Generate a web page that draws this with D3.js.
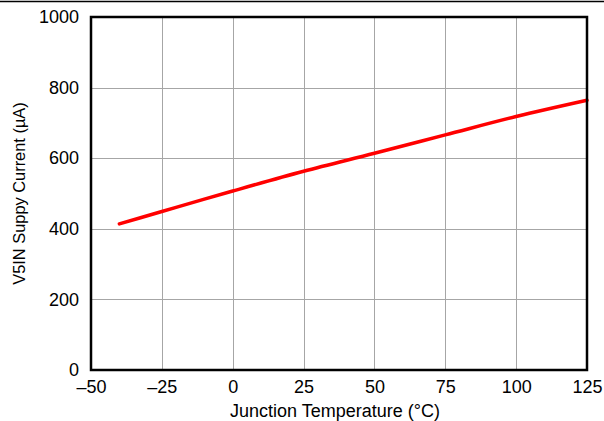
<!DOCTYPE html>
<html><head><meta charset="utf-8">
<script src="https://cdn.jsdelivr.net/npm/d3@7"></script>
<style>body{margin:0;background:#fff}svg{display:block}text{font-family:"Liberation Sans",Arial,sans-serif}</style>
</head><body>
<svg id="c" width="604" height="421"></svg>
<script>
const temps = [-40, -25, -10, 0, 25, 50, 75, 100, 125];
const current = [414, 449, 484, 507, 563, 614, 666, 718, 764];
const xTicks = [-50, -25, 0, 25, 50, 75, 100, 125];
const yTicks = [0, 200, 400, 600, 800, 1000];
const xLabel = "Junction Temperature (°C)";
const yLabel = "V5IN Suppy Current (µA)";

const svg = d3.select("#c");
const L = 91, R = 587, T = 17, B = 370;
const x = d3.scaleLinear().domain([-50, 125]).range([L, R]);
const y = d3.scaleLinear().domain([0, 1000]).range([B, T]);
const FONT = "Liberation Sans, Arial, sans-serif";

svg.append("line").attr("x1",0).attr("x2",604).attr("y1",1.5).attr("y2",1.5).attr("stroke","#000").attr("stroke-width",1.5);

const g = svg.append("g");
g.selectAll(".gx").data(xTicks.slice(1,-1)).join("line")
  .attr("x1",d=>Math.round(x(d))+0.5).attr("x2",d=>Math.round(x(d))+0.5).attr("y1",T).attr("y2",B)
  .attr("stroke","#a6a6a6").attr("stroke-width",1);
g.selectAll(".gy").data(yTicks.slice(1,-1)).join("line")
  .attr("y1",d=>Math.round(y(d))+0.5).attr("y2",d=>Math.round(y(d))+0.5).attr("x1",L).attr("x2",R)
  .attr("stroke","#a6a6a6").attr("stroke-width",1);

const line = d3.line().x((d,i)=>x(temps[i])).y(d=>y(d)).curve(d3.curveMonotoneX);
svg.append("path").datum(current).attr("d",line).attr("fill","none")
  .attr("stroke","#ff0000").attr("stroke-width",3.5).attr("stroke-linecap","round");

svg.append("rect").attr("x",L).attr("y",T).attr("width",R-L).attr("height",B-T)
  .attr("fill","none").attr("stroke","#000").attr("stroke-width",2.5);

const xa = svg.append("g").attr("transform",`translate(0,${B})`)
  .call(d3.axisBottom(x).tickValues(xTicks).tickSize(0).tickPadding(10).tickFormat(d=>d<0?"\u2013"+Math.abs(d):String(d)));
xa.select(".domain").remove();
xa.attr("font-size",18).attr("font-family",FONT);
xa.selectAll("text").attr("fill","#000");

const ya = svg.append("g").attr("transform",`translate(${L},0)`)
  .call(d3.axisLeft(y).tickValues(yTicks).tickSize(0).tickPadding(12).tickFormat(d=>String(d)));
ya.select(".domain").remove();
ya.attr("font-size",18).attr("font-family",FONT);
ya.selectAll("text").attr("fill","#000");

svg.append("text").attr("x",335).attr("y",416.5).attr("text-anchor","middle")
  .attr("font-size",18).text(xLabel);
svg.append("text").attr("transform",`translate(25,${(T+B)/2}) rotate(-90)`).attr("text-anchor","middle")
  .attr("font-size",16.4).text(yLabel);
</script>
</body></html>
